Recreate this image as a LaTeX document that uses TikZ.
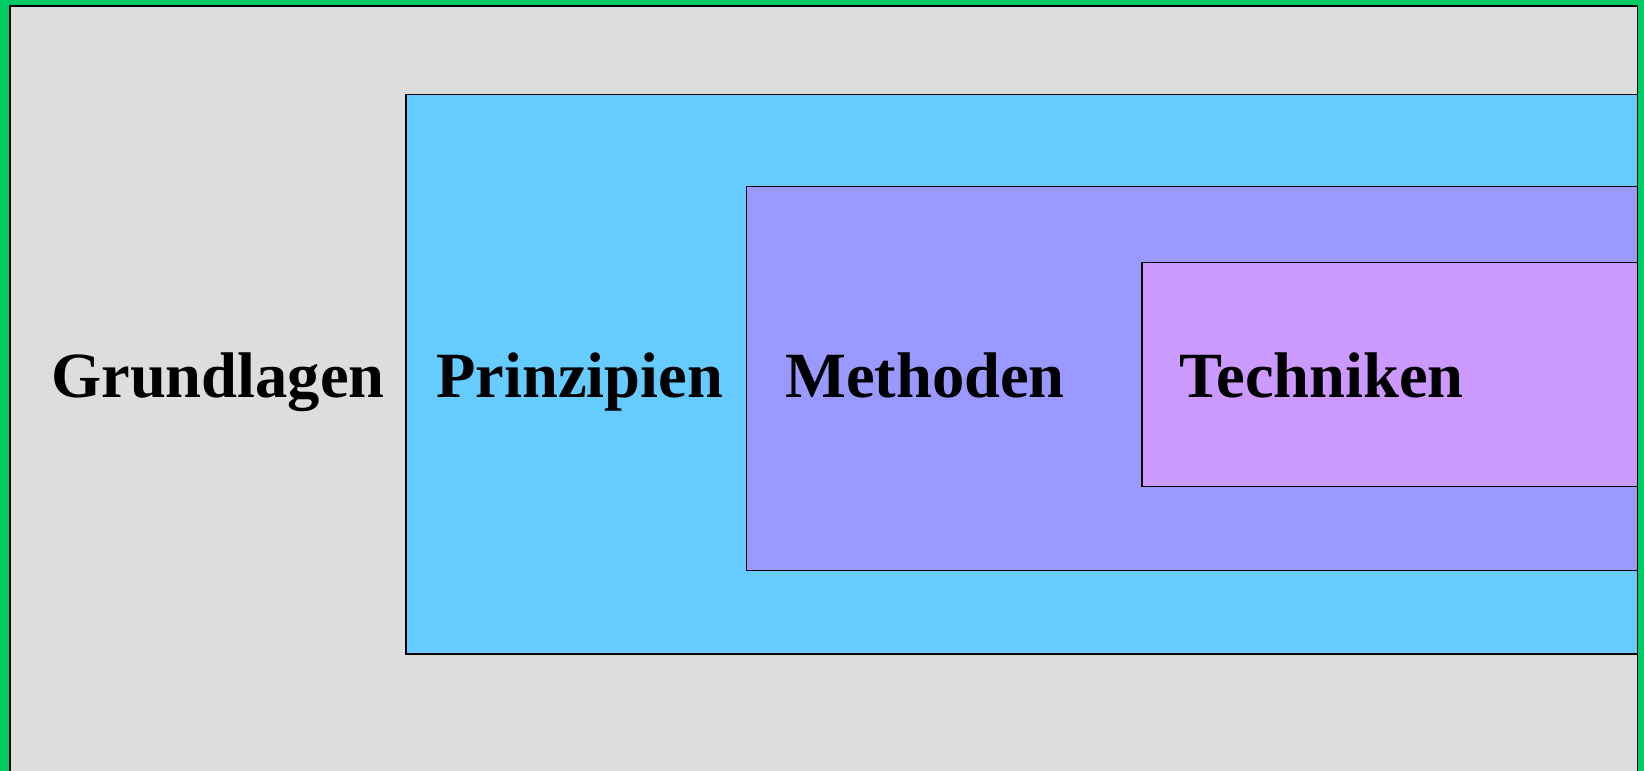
\documentclass[tikz,border=0pt]{standalone}
\usepackage{fontspec}
\setmainfont{Liberation Serif}
\definecolor{frameg}{RGB}{0,204,102}
\definecolor{bggray}{RGB}{221,221,221}
\definecolor{cblue}{RGB}{102,204,255}
\definecolor{cpurp}{RGB}{153,153,255}
\definecolor{cviol}{RGB}{204,153,255}
\tikzset{
  lbl/.style={anchor=base west, inner sep=0pt, font=\fontsize{64.5}{70}\selectfont\bfseries, text=black},
  layer/.style={draw=black, line width=1.1pt}
}
\begin{document}
\begin{tikzpicture}[x=1pt,y=1pt]
\useasboundingbox (0,0) rectangle (1644,771);
\clip (0,0) rectangle (1644,771);
\fill[frameg] (0,0) rectangle (1644,771);
\filldraw[fill=bggray, draw=black, line width=1.6pt] (10,-10) rectangle (1637.5,765);
\filldraw[layer, fill=cblue] (406,771-94.5) rectangle (1637.5,771-654);
\filldraw[layer, fill=cpurp] (746.5,771-186.8) rectangle (1637.5,771-570.5);
\filldraw[layer, fill=cviol] (1142,771-262.2) rectangle (1637.5,771-486.5);
\node[lbl] (grund) at (51,771-398) {Grundlagen};
\node[lbl] (prinz) at (436,771-398) {Prinzipien};
\node[lbl] (meth) at (785,771-398) {Methoden};
\node[lbl] (tech) at (1179,771-398) {Techniken};
\end{tikzpicture}
\end{document}
